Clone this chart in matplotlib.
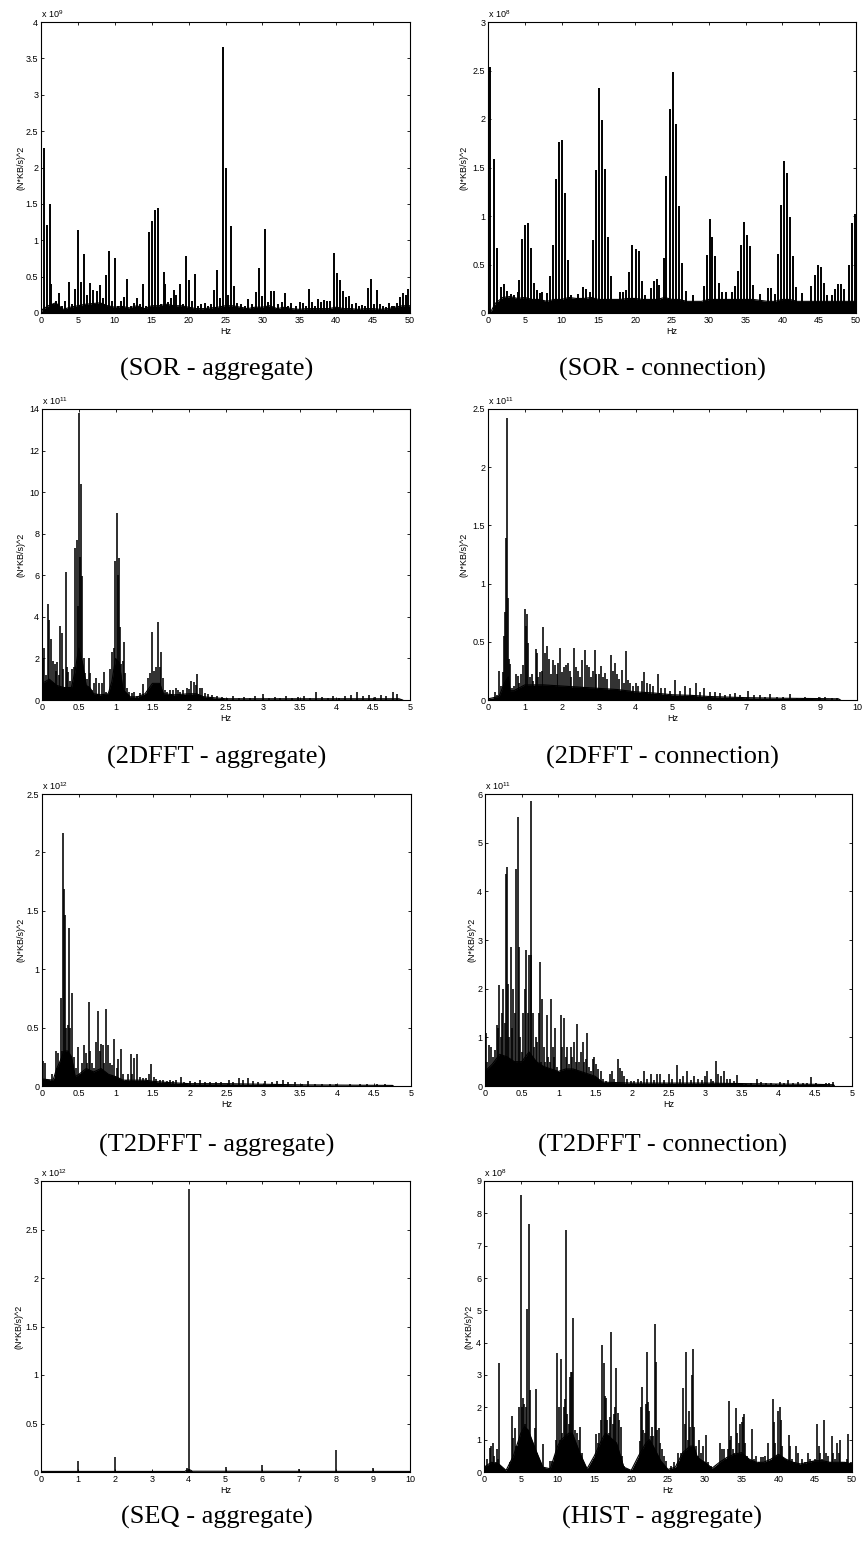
import matplotlib.pyplot as plt
from matplotlib.ticker import FuncFormatter, MultipleLocator

plt.rcParams['font.family'] = ['Liberation Sans', 'DejaVu Sans']
plt.rcParams['mathtext.fontset'] = 'custom'
plt.rcParams['mathtext.rm'] = 'Liberation Sans'
plt.rcParams['mathtext.it'] = 'Liberation Sans'

# ---- SOR - aggregate  (x 10^9) ----
sor_agg_peaks = [
    (0.36, 2.27), (0.77, 1.21), (1.17, 1.5), (1.35, 0.4), (1.6, 0.12), (2.0, 0.17), (2.4, 0.27),
    (2.8, 0.1), (3.3, 0.17), (3.8, 0.42), (4.2, 0.12), (4.56, 0.33), (4.97, 1.14), (5.37, 0.43),
    (5.78, 0.81), (6.2, 0.25), (6.6, 0.41), (7.0, 0.32), (7.6, 0.30), (8.0, 0.38), (8.35, 0.2),
    (8.76, 0.52), (9.2, 0.85), (9.6, 0.17), (9.98, 0.75), (10.4, 0.1), (10.8, 0.17), (11.25, 0.22),
    (11.6, 0.47), (12.2, 0.1), (12.6, 0.14), (12.96, 0.2), (13.4, 0.12), (13.8, 0.4), (14.2, 0.1),
    (14.6, 1.12), (15.0, 1.26), (15.45, 1.41), (15.85, 1.44), (16.26, 0.12), (16.6, 0.56),
    (16.8, 0.4), (17.2, 0.15), (17.6, 0.2), (18.0, 0.31), (18.3, 0.25), (18.8, 0.4), (19.2, 0.13),
    (19.6, 0.78), (20.0, 0.45), (20.4, 0.17), (20.8, 0.54), (21.3, 0.1), (21.7, 0.12), (22.2, 0.14),
    (22.6, 0.1), (23.0, 0.12), (23.4, 0.31), (23.8, 0.59), (24.2, 0.21), (24.6, 3.65), (25.0, 2.0),
    (25.4, 0.25), (25.8, 1.19), (26.2, 0.37), (26.6, 0.14), (27.1, 0.12), (27.6, 0.1), (28.1, 0.19),
    (28.6, 0.12), (29.2, 0.29), (29.6, 0.62), (30.0, 0.23), (30.4, 1.15), (30.8, 0.15), (31.2, 0.3),
    (31.6, 0.3), (32.1, 0.12), (32.7, 0.15), (33.1, 0.27), (33.5, 0.1), (33.9, 0.14), (34.5, 0.1),
    (35.1, 0.15), (35.5, 0.14), (35.9, 0.1), (36.3, 0.33), (36.7, 0.15), (37.1, 0.1), (37.5, 0.19),
    (37.9, 0.15), (38.4, 0.18), (38.8, 0.17), (39.2, 0.16), (39.65, 0.82), (40.05, 0.55),
    (40.5, 0.45), (40.9, 0.3), (41.3, 0.22), (41.7, 0.23), (42.1, 0.12), (42.7, 0.14), (43.1, 0.1),
    (43.5, 0.11), (43.9, 0.1), (44.3, 0.34), (44.7, 0.47), (45.1, 0.12), (45.5, 0.32), (45.9, 0.12),
    (46.4, 0.1), (46.8, 0.08), (47.1, 0.14), (47.5, 0.1), (47.8, 0.1), (48.2, 0.14), (48.6, 0.22),
    (49.0, 0.27), (49.4, 0.25), (49.75, 0.33),
]
sor_agg_floor = [
    (0, 0.0), (0.2, 0.05), (1, 0.1), (2, 0.14), (3, 0.05), (4, 0.08), (5, 0.1), (6, 0.12), (7, 0.13),
    (8, 0.14), (9, 0.1), (10, 0.08), (11, 0.09), (12, 0.07), (13, 0.1), (14, 0.06), (15, 0.1),
    (16, 0.1), (17, 0.12), (18, 0.1), (19, 0.1), (20, 0.08), (21, 0.06), (22, 0.06), (23, 0.07),
    (24, 0.08), (25, 0.1), (26, 0.1), (27, 0.08), (28, 0.06), (29, 0.08), (30, 0.08), (31, 0.1),
    (32, 0.06), (33, 0.08), (34, 0.06), (35, 0.05), (36, 0.06), (37, 0.06), (38, 0.06), (39, 0.06),
    (40, 0.08), (41, 0.06), (42, 0.06), (43, 0.05), (44, 0.06), (45, 0.06), (46, 0.05), (47, 0.06),
    (48, 0.08), (49, 0.1), (50, 0.1),
]

# ---- SOR - connection  (x 10^8) ----
sor_con_peaks = [
    (0.32, 2.54), (0.77, 1.59), (1.22, 0.67), (1.7, 0.27), (2.17, 0.3), (2.6, 0.23), (3.08, 0.2),
    (3.6, 0.19), (4.07, 0.22), (4.2, 0.34), (4.6, 0.76), (5.07, 0.91), (5.43, 0.93), (5.84, 0.67),
    (6.2, 0.31), (6.6, 0.24), (7.0, 0.21), (7.37, 0.22), (7.96, 0.21), (8.4, 0.38), (8.82, 0.70),
    (9.23, 1.38), (9.64, 1.76), (10.05, 1.78), (10.45, 1.24), (10.86, 0.55), (11.27, 0.19),
    (12.2, 0.2), (12.9, 0.27), (13.3, 0.25), (13.8, 0.22), (14.25, 0.75), (14.66, 1.47),
    (15.07, 2.32), (15.48, 1.99), (15.9, 1.48), (16.3, 0.78), (16.7, 0.38), (18.0, 0.22),
    (18.4, 0.22), (18.8, 0.24), (19.2, 0.42), (19.6, 0.70), (20.05, 0.66), (20.45, 0.64),
    (20.86, 0.33), (21.27, 0.19), (22.1, 0.26), (22.5, 0.33), (22.9, 0.35), (23.3, 0.29),
    (23.85, 0.57), (24.25, 1.41), (24.7, 2.1), (25.1, 2.48), (25.5, 1.95), (25.9, 1.1), (26.3, 0.52),
    (26.9, 0.23), (27.8, 0.19), (29.3, 0.28), (29.7, 0.60), (30.1, 0.97), (30.5, 0.78), (30.9, 0.59),
    (31.35, 0.31), (31.8, 0.22), (32.35, 0.22), (33.15, 0.22), (33.6, 0.28), (33.9, 0.43),
    (34.35, 0.70), (34.75, 0.94), (35.15, 0.80), (35.55, 0.69), (35.96, 0.29), (36.9, 0.2),
    (38.0, 0.26), (38.4, 0.26), (39.0, 0.2), (39.4, 0.61), (39.8, 1.11), (40.2, 1.57), (40.6, 1.44),
    (41.0, 0.99), (41.4, 0.59), (41.8, 0.27), (42.7, 0.21), (43.9, 0.28), (44.4, 0.39), (44.8, 0.49),
    (45.2, 0.47), (45.6, 0.31), (46.0, 0.19), (46.8, 0.19), (47.2, 0.25), (47.6, 0.30), (48.0, 0.30),
    (48.4, 0.25), (49.0, 0.5), (49.4, 0.93), (49.8, 1.02),
]
sor_con_floor = [
    (0, 0.0), (0.5, 0.03), (1, 0.1), (2, 0.16), (3, 0.17), (4, 0.15), (5, 0.16), (6, 0.14),
    (7, 0.14), (8, 0.12), (9, 0.14), (10, 0.14), (11, 0.16), (12, 0.15), (13, 0.15), (14, 0.16),
    (15, 0.14), (16, 0.14), (17, 0.14), (18, 0.14), (19, 0.15), (20, 0.15), (21, 0.14), (22, 0.14),
    (23, 0.14), (24, 0.16), (25, 0.14), (26, 0.14), (27, 0.12), (28, 0.12), (29, 0.12), (30, 0.14),
    (31, 0.14), (32, 0.14), (33, 0.14), (34, 0.14), (35, 0.14), (36, 0.14), (37, 0.13), (38, 0.12),
    (39, 0.12), (40, 0.14), (41, 0.14), (42, 0.12), (43, 0.12), (44, 0.12), (45, 0.12), (46, 0.12),
    (47, 0.12), (48, 0.12), (49, 0.12), (50, 0.12),
]

# ---- 2DFFT - aggregate  (x 10^11) ----
fft_agg_peaks = [
    (0.01, 2.0), (0.03, 2.5), (0.05, 1.2), (0.08, 4.6), (0.1, 3.85), (0.12, 2.95), (0.145, 1.9),
    (0.17, 1.75), (0.195, 1.4), (0.21, 1.85), (0.23, 1.2), (0.25, 3.55), (0.275, 3.2), (0.29, 1.5),
    (0.32, 6.15), (0.34, 1.6), (0.36, 1.35), (0.385, 0.9), (0.41, 1.5), (0.43, 1.6), (0.45, 7.3),
    (0.475, 7.7), (0.49, 4.5), (0.505, 13.8), (0.52, 6.9), (0.535, 10.4), (0.55, 5.95), (0.57, 2.0),
    (0.59, 1.3), (0.615, 1.0), (0.635, 2.0), (0.655, 1.3), (0.68, 0.5), (0.71, 0.8), (0.73, 1.05),
    (0.755, 0.3), (0.78, 0.8), (0.81, 0.8), (0.84, 1.35), (0.865, 0.4), (0.89, 0.3), (0.93, 1.5),
    (0.955, 2.3), (0.98, 2.5), (0.995, 6.7), (1.015, 9.0), (1.03, 6.0), (1.045, 6.85), (1.065, 3.5),
    (1.08, 1.75), (1.1, 1.9), (1.11, 2.8), (1.13, 1.3), (1.155, 0.6), (1.18, 0.4), (1.22, 0.35),
    (1.25, 0.4), (1.29, 0.2), (1.335, 0.35), (1.37, 0.75), (1.41, 0.3), (1.44, 1.05), (1.47, 1.3),
    (1.5, 3.25), (1.525, 1.4), (1.55, 1.6), (1.58, 3.75), (1.6, 1.6), (1.615, 2.3), (1.64, 1.05),
    (1.67, 0.5), (1.705, 0.4), (1.74, 0.5), (1.78, 0.5), (1.815, 0.6), (1.845, 0.5), (1.88, 0.4),
    (1.92, 0.5), (1.97, 0.6), (2.0, 0.55), (2.03, 0.9), (2.06, 0.85), (2.09, 0.7), (2.11, 1.25),
    (2.14, 0.6), (2.175, 0.6), (2.215, 0.35), (2.26, 0.3), (2.31, 0.25), (2.38, 0.2), (2.45, 0.15),
    (2.52, 0.1), (2.6, 0.2), (2.68, 0.1), (2.75, 0.15), (2.82, 0.12), (2.9, 0.2), (3.0, 0.3),
    (3.08, 0.1), (3.16, 0.15), (3.24, 0.12), (3.32, 0.2), (3.4, 0.1), (3.48, 0.15), (3.56, 0.2),
    (3.64, 0.1), (3.72, 0.4), (3.8, 0.15), (3.88, 0.12), (3.96, 0.2), (4.04, 0.12), (4.12, 0.2),
    (4.2, 0.25), (4.28, 0.4), (4.36, 0.2), (4.44, 0.25), (4.52, 0.15), (4.6, 0.25), (4.68, 0.2),
    (4.77, 0.4), (4.83, 0.3),
]
fft_agg_floor = [
    (0, 0.8), (0.1, 1.0), (0.2, 0.7), (0.3, 0.6), (0.4, 0.6), (0.45, 1.4), (0.5, 2.5), (0.55, 1.8),
    (0.6, 0.7), (0.65, 0.6), (0.7, 0.3), (0.8, 0.25), (0.9, 0.3), (0.95, 0.9), (1.0, 2.0),
    (1.05, 1.8), (1.1, 0.5), (1.2, 0.15), (1.3, 0.15), (1.4, 0.3), (1.5, 0.8), (1.6, 0.8), (1.65, 0.3),
    (1.8, 0.25), (2.0, 0.3), (2.1, 0.3), (2.2, 0.15), (2.5, 0.06), (3.0, 0.06), (4.0, 0.06),
    (4.85, 0.06), (4.9, 0.0),
]

# ---- 2DFFT - connection  (x 10^11) ----
fft_con_peaks = [
    (0.18, 0.07), (0.25, 0.04), (0.31, 0.25), (0.36, 0.12), (0.4, 0.24), (0.43, 0.55), (0.46, 0.76),
    (0.49, 1.39), (0.52, 2.42), (0.54, 0.88), (0.57, 0.35), (0.6, 0.31), (0.65, 0.1), (0.7, 0.12),
    (0.76, 0.22), (0.8, 0.21), (0.85, 0.15), (0.9, 0.22), (0.95, 0.3), (0.995, 0.78), (1.02, 0.64),
    (1.05, 0.74), (1.085, 0.49), (1.13, 0.2), (1.18, 0.22), (1.22, 0.16), (1.29, 0.44), (1.32, 0.4),
    (1.36, 0.2), (1.41, 0.24), (1.46, 0.25), (1.5, 0.63), (1.54, 0.4), (1.6, 0.46), (1.65, 0.35),
    (1.7, 0.22), (1.76, 0.34), (1.81, 0.3), (1.86, 0.22), (1.91, 0.32), (1.955, 0.45), (2.01, 0.24),
    (2.06, 0.28), (2.12, 0.3), (2.16, 0.32), (2.22, 0.25), (2.26, 0.2), (2.33, 0.45), (2.38, 0.28),
    (2.44, 0.25), (2.5, 0.2), (2.56, 0.34), (2.62, 0.43), (2.68, 0.3), (2.73, 0.28), (2.79, 0.2),
    (2.84, 0.25), (2.89, 0.43), (2.94, 0.22), (3.0, 0.22), (3.05, 0.29), (3.11, 0.2), (3.17, 0.23),
    (3.23, 0.18), (3.32, 0.39), (3.38, 0.25), (3.44, 0.32), (3.5, 0.22), (3.56, 0.18), (3.62, 0.26),
    (3.68, 0.15), (3.74, 0.42), (3.8, 0.17), (3.86, 0.15), (3.94, 0.12), (4.0, 0.15), (4.07, 0.12),
    (4.16, 0.16), (4.23, 0.24), (4.3, 0.15), (4.39, 0.14), (4.48, 0.12), (4.62, 0.22), (4.7, 0.1),
    (4.8, 0.1), (4.93, 0.08), (5.07, 0.17), (5.2, 0.08), (5.34, 0.12), (5.48, 0.1), (5.64, 0.15),
    (5.75, 0.07), (5.86, 0.1), (6.02, 0.07), (6.15, 0.07), (6.29, 0.06), (6.43, 0.04), (6.56, 0.05),
    (6.7, 0.06), (6.83, 0.04), (7.04, 0.08), (7.2, 0.04), (7.38, 0.04), (7.51, 0.03), (7.65, 0.05),
    (7.83, 0.03), (8.0, 0.03), (8.19, 0.05), (8.37, 0.02), (8.6, 0.03), (8.78, 0.02), (8.96, 0.03),
    (9.14, 0.03), (9.32, 0.02), (9.46, 0.02),
]
fft_con_floor = [
    (0, 0.01), (0.3, 0.03), (0.45, 0.15), (0.55, 0.2), (0.6, 0.08), (0.7, 0.08), (1.0, 0.13),
    (1.5, 0.13), (2.0, 0.12), (2.5, 0.11), (3.0, 0.1), (3.5, 0.09), (4.0, 0.07), (4.5, 0.06),
    (5.0, 0.045), (5.5, 0.04), (6.0, 0.03), (6.5, 0.025), (7.0, 0.02), (8.0, 0.015), (9.0, 0.012),
    (9.5, 0.01), (9.55, 0.0),
]

# ---- T2DFFT - aggregate  (x 10^12) ----
t2d_agg_peaks = [
    (0.01, 0.21), (0.035, 0.2), (0.06, 0.05), (0.1, 0.05), (0.13, 0.1), (0.16, 0.05), (0.185, 0.3),
    (0.2, 0.15), (0.22, 0.28), (0.24, 0.2), (0.255, 0.75), (0.27, 0.3), (0.28, 2.17), (0.295, 1.69),
    (0.31, 1.46), (0.33, 0.5), (0.35, 0.52), (0.367, 1.35), (0.385, 0.5), (0.41, 0.8), (0.43, 0.25),
    (0.455, 0.15), (0.49, 0.33), (0.51, 0.1), (0.54, 0.2), (0.565, 0.35), (0.59, 0.28), (0.61, 0.2),
    (0.635, 0.72), (0.655, 0.3), (0.68, 0.2), (0.705, 0.15), (0.73, 0.38), (0.755, 0.64),
    (0.78, 0.3), (0.795, 0.36), (0.82, 0.35), (0.84, 0.2), (0.87, 0.66), (0.89, 0.35), (0.915, 0.2),
    (0.95, 0.18), (0.98, 0.4), (1.01, 0.15), (1.035, 0.23), (1.07, 0.32), (1.1, 0.1), (1.135, 0.05),
    (1.17, 0.1), (1.2, 0.27), (1.225, 0.1), (1.25, 0.24), (1.29, 0.27), (1.325, 0.08), (1.37, 0.07),
    (1.415, 0.07), (1.45, 0.1), (1.48, 0.19), (1.515, 0.08), (1.55, 0.06), (1.6, 0.05), (1.64, 0.05),
    (1.69, 0.04), (1.73, 0.05), (1.78, 0.04), (1.82, 0.05), (1.88, 0.08), (1.93, 0.03), (2.0, 0.04),
    (2.07, 0.03), (2.14, 0.05), (2.21, 0.03), (2.28, 0.03), (2.36, 0.03), (2.43, 0.03), (2.53, 0.05),
    (2.59, 0.03), (2.67, 0.07), (2.73, 0.05), (2.79, 0.07), (2.86, 0.04), (2.93, 0.03), (3.02, 0.04),
    (3.11, 0.03), (3.19, 0.04), (3.26, 0.05), (3.34, 0.03), (3.43, 0.03), (3.52, 0.02), (3.61, 0.04),
    (3.7, 0.02), (3.79, 0.02), (3.9, 0.02), (3.99, 0.02), (4.17, 0.02), (4.31, 0.015), (4.4, 0.02),
    (4.54, 0.015), (4.65, 0.015), (4.74, 0.01),
]
t2d_agg_floor = [
    (0, 0.06), (0.15, 0.05), (0.2, 0.15), (0.25, 0.22), (0.3, 0.3), (0.35, 0.3), (0.4, 0.25),
    (0.45, 0.08), (0.5, 0.1), (0.6, 0.15), (0.7, 0.12), (0.8, 0.15), (0.9, 0.1), (1.0, 0.08),
    (1.1, 0.05), (1.2, 0.05), (1.4, 0.05), (1.5, 0.04), (1.7, 0.03), (2.0, 0.02), (2.5, 0.02),
    (3.0, 0.015), (3.5, 0.01), (4.0, 0.008), (4.75, 0.005), (4.76, 0.0),
]

# ---- T2DFFT - connection  (x 10^11) ----
t2d_con_peaks = [
    (0.01, 1.08), (0.03, 0.5), (0.05, 0.85), (0.07, 0.3), (0.085, 0.8), (0.105, 0.6), (0.12, 0.3),
    (0.14, 0.75), (0.16, 1.25), (0.18, 1.2), (0.195, 2.07), (0.215, 1.0), (0.23, 1.5), (0.25, 2.0),
    (0.27, 1.3), (0.28, 4.35), (0.3, 4.5), (0.315, 2.1), (0.33, 1.0), (0.35, 2.85), (0.37, 1.2),
    (0.385, 2.0), (0.405, 1.5), (0.42, 4.45), (0.445, 5.52), (0.465, 2.85), (0.48, 1.0), (0.5, 0.7),
    (0.52, 1.5), (0.54, 2.0), (0.56, 2.8), (0.58, 1.5), (0.6, 2.7), (0.62, 2.7), (0.63, 5.85),
    (0.65, 1.5), (0.67, 0.8), (0.69, 1.0), (0.71, 0.9), (0.73, 1.5), (0.745, 2.55), (0.765, 0.5),
    (0.78, 1.78), (0.8, 0.8), (0.82, 0.5), (0.84, 1.45), (0.865, 0.6), (0.885, 0.5), (0.905, 1.79),
    (0.92, 0.8), (0.94, 0.6), (0.96, 1.2), (0.985, 0.4), (1.015, 0.2), (1.035, 1.46), (1.055, 0.8),
    (1.08, 1.4), (1.1, 0.6), (1.12, 0.8), (1.145, 0.45), (1.17, 0.8), (1.19, 0.6), (1.215, 0.9),
    (1.235, 0.5), (1.26, 1.27), (1.28, 0.5), (1.305, 0.7), (1.33, 0.9), (1.355, 0.5), (1.38, 0.55),
    (1.395, 1.08), (1.42, 0.4), (1.44, 0.3), (1.47, 0.55), (1.49, 0.6), (1.515, 0.45), (1.545, 0.35),
    (1.58, 0.3), (1.61, 0.15), (1.645, 0.1), (1.7, 0.25), (1.735, 0.3), (1.76, 0.15), (1.81, 0.56),
    (1.84, 0.38), (1.87, 0.3), (1.9, 0.2), (1.94, 0.15), (1.985, 0.1), (2.03, 0.1), (2.08, 0.15),
    (2.12, 0.1), (2.17, 0.3), (2.21, 0.15), (2.26, 0.25), (2.3, 0.12), (2.35, 0.25), (2.39, 0.25),
    (2.44, 0.12), (2.5, 0.25), (2.55, 0.15), (2.61, 0.43), (2.66, 0.15), (2.7, 0.2), (2.75, 0.3),
    (2.8, 0.12), (2.85, 0.2), (2.9, 0.15), (2.95, 0.12), (3.0, 0.2), (3.02, 0.3), (3.08, 0.15),
    (3.11, 0.1), (3.145, 0.52), (3.18, 0.25), (3.21, 0.2), (3.25, 0.3), (3.3, 0.15), (3.34, 0.15),
    (3.39, 0.1), (3.43, 0.22), (3.49, 0.05), (3.55, 0.05), (3.62, 0.07), (3.7, 0.15), (3.76, 0.08),
    (3.83, 0.06), (3.9, 0.06), (3.96, 0.05), (4.02, 0.08), (4.08, 0.06), (4.13, 0.12), (4.19, 0.06),
    (4.26, 0.08), (4.33, 0.06), (4.39, 0.07), (4.44, 0.18), (4.51, 0.06), (4.58, 0.05), (4.65, 0.06),
    (4.69, 0.06), (4.74, 0.08),
]
t2d_con_floor = [
    (0, 0.3), (0.1, 0.45), (0.2, 0.65), (0.3, 0.6), (0.4, 0.5), (0.5, 0.5), (0.6, 0.7), (0.7, 0.5),
    (0.8, 0.4), (0.9, 0.35), (1.0, 0.3), (1.1, 0.35), (1.2, 0.35), (1.3, 0.3), (1.4, 0.25),
    (1.5, 0.2), (1.6, 0.08), (1.8, 0.07), (2.0, 0.06), (2.5, 0.06), (3.0, 0.06), (3.5, 0.05),
    (4.0, 0.04), (4.5, 0.035), (4.75, 0.025), (4.76, 0.0),
]

# ---- SEQ - aggregate  (x 10^12) ----
seq_agg_peaks = [
    (1.0, 0.11), (2.0, 0.155), (3.0, 0.01), (3.97, 0.04), (4.0, 2.92), (4.02, 0.03), (4.08, 0.015),
    (5.0, 0.05), (6.0, 0.07), (7.0, 0.035), (8.0, 0.23), (9.0, 0.04),
]
seq_agg_floor = [
    (0, 0.006), (3.9, 0.006), (3.95, 0.02), (4.05, 0.02), (4.1, 0.008), (10, 0.006),
]

# ---- HIST - aggregate  (x 10^8) ----
hist_agg_peaks = [
    (0.14, 0.2), (0.45, 0.4), (0.77, 0.75), (1.0, 0.8), (1.18, 0.9), (1.36, 0.5), (1.6, 0.3),
    (1.72, 0.7), (1.9, 0.4), (2.09, 3.37), (2.27, 0.2), (2.7, 0.1), (3.2, 0.1), (3.54, 0.3),
    (3.8, 1.72), (4.0, 1.05), (4.17, 1.35), (4.36, 0.8), (4.54, 0.8), (4.76, 2.0), (4.9, 0.9),
    (5.0, 8.58), (5.13, 2.0), (5.26, 2.28), (5.44, 2.1), (5.58, 1.5), (5.76, 2.0), (5.9, 5.03),
    (6.08, 7.68), (6.22, 2.55), (6.35, 0.85), (6.53, 0.8), (6.7, 0.6), (6.9, 1.35), (7.08, 2.56),
    (7.26, 0.6), (7.5, 0.3), (7.7, 0.2), (8.0, 0.88), (8.4, 0.05), (8.94, 0.35), (9.3, 0.35),
    (9.62, 0.5), (9.8, 1.0), (9.98, 3.67), (10.16, 2.0), (10.3, 1.0), (10.48, 3.5), (10.66, 1.2),
    (10.84, 2.0), (10.98, 2.27), (11.16, 7.5), (11.34, 1.8), (11.5, 1.5), (11.7, 2.95), (11.8, 3.1),
    (11.98, 3.1), (12.16, 4.75), (12.34, 1.3), (12.5, 0.8), (12.7, 1.2), (12.9, 1.0), (13.07, 1.4),
    (13.25, 0.6), (13.5, 0.2), (14.07, 0.1), (14.5, 0.2), (14.88, 0.4), (15.2, 1.17), (15.43, 0.9),
    (15.65, 1.2), (15.9, 1.6), (16.06, 3.93), (16.24, 3.37), (16.38, 2.35), (16.56, 2.3),
    (16.74, 1.6), (16.92, 1.2), (17.1, 1.7), (17.3, 4.32), (17.47, 1.5), (17.65, 1.8), (17.83, 2.0),
    (18.0, 3.22), (18.2, 1.84), (18.37, 1.6), (18.55, 1.4), (18.74, 0.5), (19.05, 0.2), (19.5, 0.1),
    (20.2, 0.05), (20.87, 0.2), (21.2, 0.95), (21.37, 2.0), (21.5, 2.62), (21.64, 1.3), (21.82, 1.2),
    (22.0, 2.1), (22.18, 3.7), (22.32, 2.15), (22.46, 1.9), (22.64, 1.1), (22.82, 1.4), (23.0, 1.1),
    (23.18, 4.57), (23.37, 3.4), (23.55, 1.3), (23.73, 1.35), (23.96, 0.9), (24.18, 0.7),
    (24.4, 0.5), (24.7, 0.35), (25.4, 0.2), (25.86, 0.3), (26.4, 0.6), (26.77, 0.6), (27.1, 2.6),
    (27.3, 1.5), (27.5, 3.7), (27.7, 1.0), (27.8, 1.9), (28.0, 1.4), (28.2, 3.0), (28.4, 3.8),
    (28.6, 1.4), (28.8, 0.8), (29.03, 0.5), (29.26, 1.0), (29.5, 0.6), (29.7, 0.8), (29.95, 0.3),
    (30.2, 1.15), (30.5, 0.3), (30.85, 0.2), (31.2, 0.1), (31.67, 0.2), (32.1, 0.9), (32.3, 0.7),
    (32.6, 0.7), (32.9, 0.4), (33.1, 0.7), (33.3, 2.2), (33.45, 1.0), (33.6, 1.1), (33.85, 0.7),
    (34.0, 0.6), (34.26, 1.98), (34.44, 1.2), (34.67, 0.9), (34.85, 1.5), (35.03, 1.55), (35.2, 1.7),
    (35.35, 1.78), (35.5, 0.9), (35.7, 0.5), (35.9, 0.3), (36.15, 0.2), (36.4, 1.32), (36.66, 0.4),
    (36.97, 0.5), (37.3, 0.3), (37.57, 0.45), (37.9, 0.45), (38.2, 0.5), (38.57, 0.9), (38.9, 0.3),
    (39.25, 2.25), (39.43, 1.55), (39.6, 0.9), (39.84, 0.5), (40.0, 1.9), (40.2, 2.0), (40.36, 1.6),
    (40.55, 0.8), (40.8, 0.4), (41.1, 0.3), (41.4, 1.15), (41.6, 0.8), (41.8, 0.4), (42.1, 0.3),
    (42.4, 0.8), (42.6, 0.6), (42.9, 0.2), (43.2, 0.4), (43.55, 0.3), (44.0, 0.6), (44.3, 0.4),
    (44.7, 0.35), (45.0, 0.4), (45.28, 1.48), (45.5, 0.8), (45.7, 0.6), (45.96, 0.4), (46.2, 1.6),
    (46.4, 0.6), (46.7, 0.5), (46.95, 0.3), (47.26, 1.1), (47.45, 0.6), (47.7, 0.4), (47.97, 0.9),
    (48.2, 0.6), (48.4, 1.0), (48.6, 0.3), (48.9, 0.3), (49.3, 0.4), (49.5, 1.16), (49.8, 0.3),
]
hist_agg_floor = [
    (0, 0.15), (1, 0.3), (2, 0.25), (3, 0.05), (4, 0.5), (5, 1.2), (5.5, 1.4), (6, 1.3), (7, 0.7),
    (8, 0.15), (9, 0.1), (10, 0.8), (10.5, 1.0), (11, 1.1), (11.5, 1.2), (12, 1.2), (13, 0.6),
    (14, 0.1), (15, 0.5), (16, 1.0), (16.5, 1.2), (17, 1.1), (18, 0.9), (19, 0.15), (20, 0.05),
    (21, 0.5), (22, 0.9), (22.5, 1.0), (23, 0.8), (24, 0.35), (25, 0.08), (26, 0.15), (27, 0.6),
    (28, 0.8), (28.5, 0.8), (29, 0.45), (30, 0.3), (31, 0.12), (32, 0.3), (33, 0.45), (34, 0.55),
    (35, 0.6), (36, 0.4), (37, 0.3), (38, 0.3), (39, 0.4), (40, 0.55), (41, 0.4), (42, 0.3),
    (43, 0.25), (44, 0.3), (45, 0.35), (46, 0.35), (47, 0.3), (48, 0.3), (49, 0.3), (50, 0.25),
]

W, H = 863, 1550
# axes boxes in pixels: (left, top, right, bottom)
panels = [
    dict(peaks=sor_agg_peaks, floor=sor_agg_floor, box=(41, 22, 410, 313), xmax=50, xstep=5,
         ymax=4, ystep=0.5, exp='9', ylab_x=21, cap='(SOR - aggregate)', lw=1.4),
    dict(peaks=sor_con_peaks, floor=sor_con_floor, box=(488, 22, 856, 313), xmax=50, xstep=5,
         ymax=3, ystep=0.5, exp='8', ylab_x=464, cap='(SOR - connection)', lw=1.4),
    dict(peaks=fft_agg_peaks, floor=fft_agg_floor, box=(42, 409, 410, 700), xmax=5, xstep=0.5,
         ymax=14, ystep=2, exp='11', ylab_x=21, cap='(2DFFT - aggregate)', lw=1.15),
    dict(peaks=fft_con_peaks, floor=fft_con_floor, box=(488, 409, 857, 700), xmax=10, xstep=1,
         ymax=2.5, ystep=0.5, exp='11', ylab_x=464, cap='(2DFFT - connection)', lw=1.15),
    dict(peaks=t2d_agg_peaks, floor=t2d_agg_floor, box=(42, 794, 411, 1086), xmax=5, xstep=0.5,
         ymax=2.5, ystep=0.5, exp='12', ylab_x=21, cap='(T2DFFT - aggregate)', lw=1.15),
    dict(peaks=t2d_con_peaks, floor=t2d_con_floor, box=(485, 794, 852, 1086), xmax=5, xstep=0.5,
         ymax=6, ystep=1, exp='11', ylab_x=472, cap='(T2DFFT - connection)', lw=1.15),
    dict(peaks=seq_agg_peaks, floor=seq_agg_floor, box=(41, 1181, 410, 1472), xmax=10, xstep=1,
         ymax=3, ystep=0.5, exp='12', ylab_x=19, cap='(SEQ - aggregate)', lw=1.1),
    dict(peaks=hist_agg_peaks, floor=hist_agg_floor, box=(484, 1181, 852, 1472), xmax=50, xstep=5,
         ymax=9, ystep=1, exp='8', ylab_x=469, cap='(HIST - aggregate)', lw=1.15),
]
cap_x = [217, 662]
cap_y = [369, 757, 1145, 1517]

fig = plt.figure(figsize=(W / 100, H / 100), dpi=100)
fmt = FuncFormatter(lambda v, p: f'{v:g}')

for i, p in enumerate(panels):
    x0, y0, x1, y1 = p['box']
    ax = fig.add_axes([x0 / W, 1 - y1 / H, (x1 - x0) / W, (y1 - y0) / H])
    ff, fv = zip(*p['floor'])
    ax.fill_between(ff, 0, fv, color='k', lw=0)
    ax.plot(ff, fv, color='k', lw=0.8)
    pf, pv = zip(*p['peaks'])
    ax.vlines(pf, 0, pv, color='k', lw=p['lw'])

    ax.set_xlim(0, p['xmax'])
    ax.set_ylim(0, p['ymax'])
    ax.xaxis.set_major_locator(MultipleLocator(p['xstep']))
    ax.yaxis.set_major_locator(MultipleLocator(p['ystep']))
    ax.xaxis.set_major_formatter(fmt)
    ax.yaxis.set_major_formatter(fmt)
    ax.tick_params(direction='in', top=True, right=True, length=2.2, width=0.6,
                   labelsize=6.5, pad=2)
    for s in ax.spines.values():
        s.set_linewidth(0.8)
    ax.set_xlabel('Hz', fontsize=6.5, labelpad=1.5)
    ax.text(0.0, 1.006, 'x 10$^{' + p['exp'] + '}$', transform=ax.transAxes,
            fontsize=6.5, va='bottom', ha='left')
    fig.text(p['ylab_x'] / W, 1 - ((y0 + y1) / 2) / H, '(N*KB/s)^2', rotation=90,
             fontsize=6.5, ha='center', va='center')
    fig.text(cap_x[i % 2] / W, 1 - cap_y[i // 2] / H, p['cap'], family='Liberation Serif',
             fontsize=19, ha='center', va='center')

fig.savefig('out.png', dpi=100)
